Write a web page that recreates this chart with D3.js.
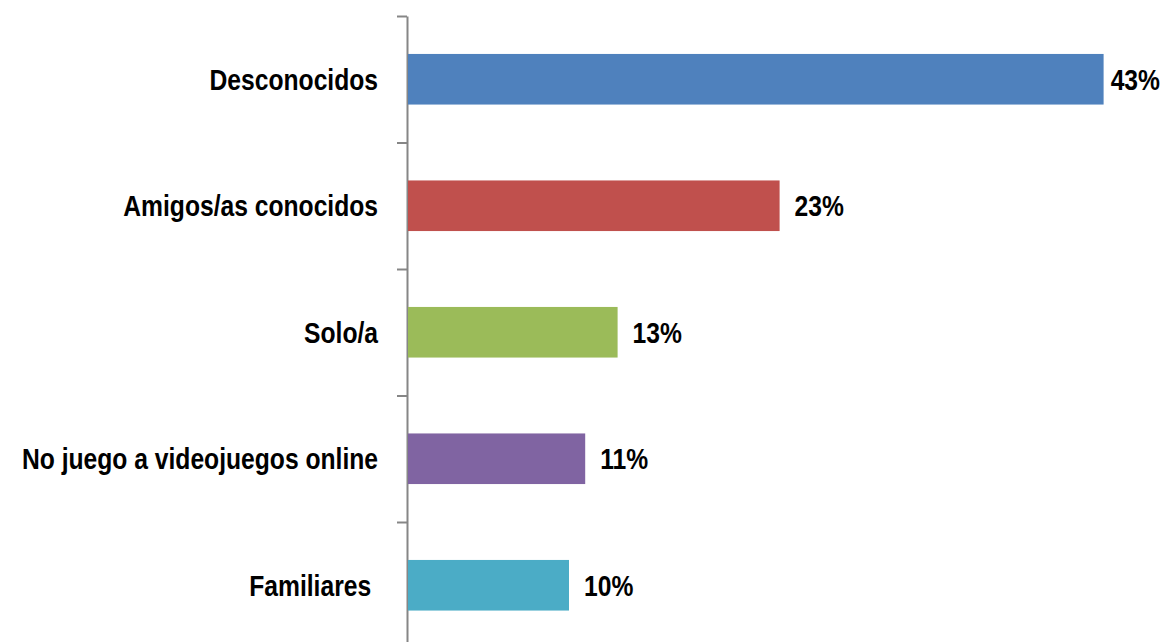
<!DOCTYPE html>
<html>
<head>
<meta charset="utf-8">
<script src="https://cdn.jsdelivr.net/npm/d3@7"></script>
<style>
  html, body { margin: 0; padding: 0; background: #fff; }
  svg text { font-family: "Liberation Sans", Arial, sans-serif; font-weight: bold; fill: #000; }
</style>
</head>
<body>
<svg id="chart" width="1165" height="642"></svg>
<script>
// Share of respondents by who they play online video games with
const categories = ["Desconocidos", "Amigos/as conocidos", "Solo/a", "No juego a videojuegos online", "Familiares\u00A0"];
const values = [43, 23, 13, 11, 10];
const valueLabels = ["43%", "23%", "13%", "11%", "10%"];
const colors = ["#4F81BD", "#C0504D", "#9BBB59", "#8064A2", "#4BACC6"];

const svg = d3.select("#chart");
const W = 1165;
const axisX = 407, plotTop = 16, plotBottom = 648.5;
const fontSize = 29;
const narrow = 0.85; // horizontal squeeze for a condensed bold face

const x = d3.scaleLinear().domain([0, 45]).range([axisX, axisX + 729]);
const y = d3.scaleBand().domain(categories).range([plotTop, plotBottom])
  .paddingInner(0.6).paddingOuter(0.3);

// Category axis: line with tick marks between bands
const tickScale = d3.scaleLinear().domain([0, categories.length]).range([plotTop, plotBottom]);
const axis = svg.append("g").attr("transform", `translate(${axisX},0)`)
  .call(d3.axisLeft(tickScale).tickValues(d3.range(categories.length + 1))
    .tickFormat("").tickSize(10).tickSizeOuter(0));
axis.select(".domain").attr("stroke", "#868686").attr("stroke-width", 2);
axis.selectAll(".tick line").attr("stroke", "#868686").attr("stroke-width", 2);

// Bars
svg.append("g").selectAll("rect").data(values).join("rect")
  .attr("x", x(0) + 1)
  .attr("y", (d, i) => y(categories[i]))
  .attr("width", d => x(d) - x(0) - 1)
  .attr("height", y.bandwidth())
  .attr("fill", (d, i) => colors[i]);

// Category labels
svg.append("g").selectAll("text").data(categories).join("text")
  .attr("transform", d => `translate(${axisX - 29},${y(d) + y.bandwidth() / 2}) scale(${narrow},1)`)
  .attr("dy", "0.36em")
  .attr("text-anchor", "end")
  .style("font-size", fontSize + "px")
  .style("white-space", "pre")
  .text(d => d);

// Value labels, kept inside the chart's right edge
svg.append("g").selectAll("text").data(values).join("text")
  .attr("dy", "0.36em")
  .style("font-size", fontSize + "px")
  .text((d, i) => valueLabels[i])
  .attr("transform", function (d, i) {
    const w = this.getComputedTextLength() * narrow;
    const lx = Math.min(x(d) + 15, W - 5 - w);
    return `translate(${lx},${y(categories[i]) + y.bandwidth() / 2}) scale(${narrow},1)`;
  });
</script>
</body>
</html>
